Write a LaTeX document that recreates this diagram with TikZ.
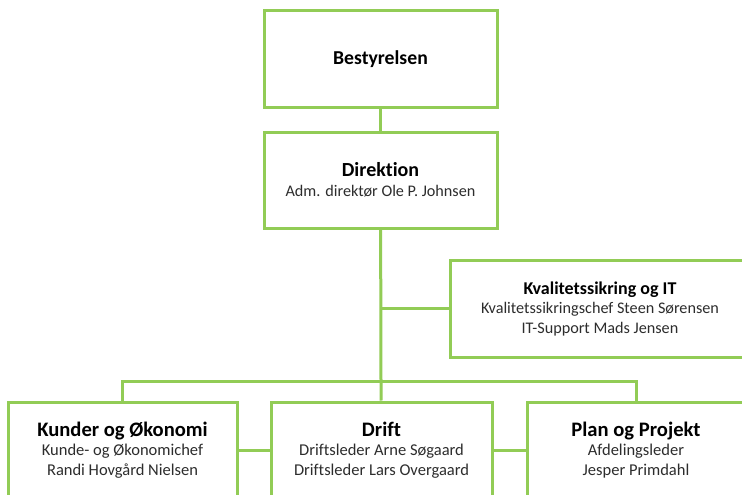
\documentclass[tikz,border=0pt]{standalone}
\usepackage{fontspec}
\setmainfont{Carlito}[Ligatures=NoCommon]
\definecolor{orggreen}{RGB}{146,204,86}
\definecolor{subgray}{RGB}{45,45,45}
\tikzset{
    unit/.style={draw=orggreen, line width=3pt, fill=white, align=center,
        inner sep=0pt, minimum height=96pt, text=subgray},
    link/.style={draw=orggreen, line width=3pt},
    small/.style={font=\fontsize{16.2}{19.5}\selectfont},
    large/.style={font=\fontsize{16.5}{19.5}\selectfont},
}
\newcommand{\head}[2]{{\color{black}\bfseries\fontsize{#1}{20}\selectfont #2}}
\begin{document}
\begin{tikzpicture}[x=1pt,y=-1pt]
    \useasboundingbox (0,0) rectangle (742,495);
    \clip (0,0) rectangle (742,495);
    \fill[white] (0,0) rectangle (742,495);
    \node[unit, minimum width=233pt] (board) at (380.5,59) {\head{19.7}{Bestyrelsen}};
    \node[unit, minimum width=233pt, small] (direk) at (380.5,180)
        {\head{20}{Direktion}\\ Adm. direktør Ole P. Johnsen};
    \node[unit, minimum width=300pt, minimum height=97pt, small] (kval) at (600,308.5)
        {\head{18}{Kvalitetssikring og IT}\\
         Kvalitetssikringschef Steen Sørensen\\ IT-Support Mads Jensen};
    \node[unit, minimum width=229pt, large] (kunder) at (122.5,450)
        {\head{20.6}{Kunder og Økonomi}\\
         Kunde- og Økonomichef\\ Randi Hovgård Nielsen};
    \node[unit, minimum width=221pt, large] (drift) at (381.5,450)
        {\head{20.6}{Drift}\\
         Driftsleder Arne Søgaard\\ Driftsleder Lars Overgaard};
    \node[unit, minimum width=218pt, large] (plan) at (636,450)
        {\head{20.6}{Plan og Projekt}\\
         Afdelingsleder\\ Jesper Primdahl};
    \coordinate (bus) at (381,381);
    \coordinate (kvaljoin) at (381,308.5);
    \draw[link] (board) -- (direk);
    \draw[link] (direk) -- (bus);
    \draw[link] (kvaljoin) -- (kval);
    \draw[link] (kunder) |- (bus) -| (plan);
    \draw[link] (bus) -- (drift);
    \draw[link] (kunder) -- (drift) -- (plan);
\end{tikzpicture}
\end{document}
